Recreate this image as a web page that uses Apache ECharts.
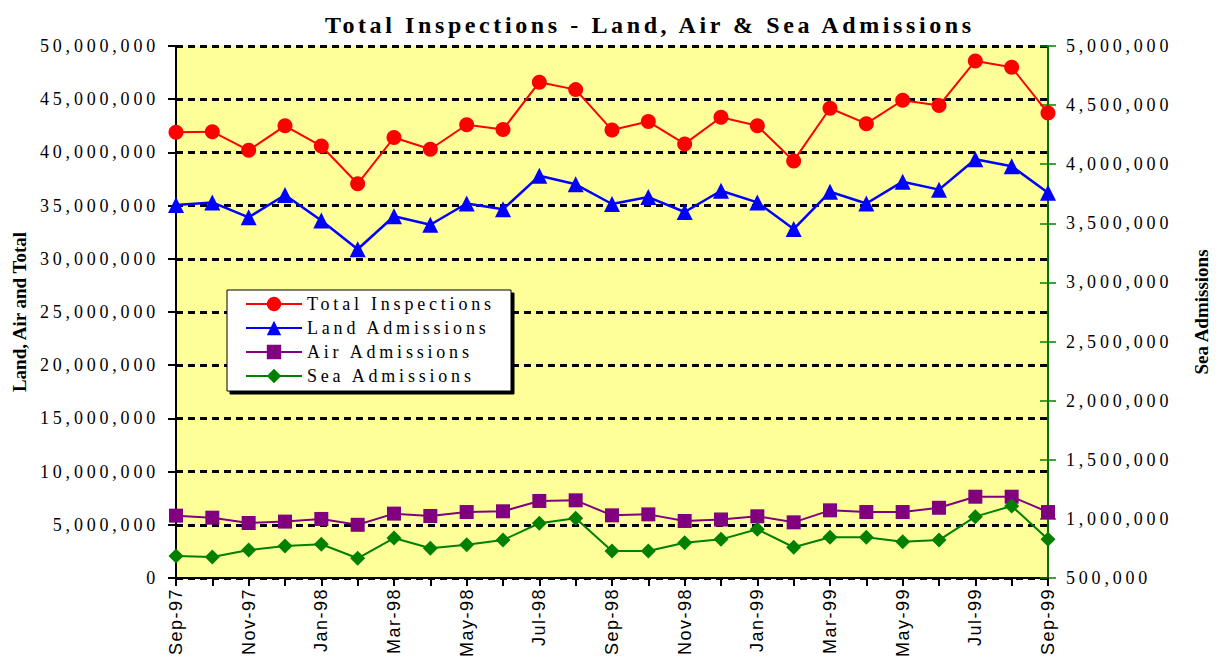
<!DOCTYPE html>
<html>
<head>
<meta charset="utf-8">
<script src="https://cdn.jsdelivr.net/npm/echarts@6/dist/echarts.min.js"></script>
<style>
html,body{margin:0;padding:0;background:#fff;}
#c{width:1217px;height:661px;}
text[style*="Liberation Serif"]{letter-spacing:3.8px;}
text[style*="24px"]{letter-spacing:3.6px;}
text[style*="19px"]{letter-spacing:0px;}
text[style*="Liberation Sans"]{letter-spacing:1.5px;}
</style>
</head>
<body>
<div id="c"></div>
<script>
const categories = ['Sep-97','Oct-97','Nov-97','Dec-97','Jan-98','Feb-98','Mar-98','Apr-98','May-98','Jun-98','Jul-98','Aug-98',
  'Sep-98','Oct-98','Nov-98','Dec-98','Jan-99','Feb-99','Mar-99','Apr-99','May-99','Jun-99','Jul-99','Aug-99','Sep-99'];
const totalInspections = [41900000,41950000,40200000,42500000,40600000,37050000,41400000,40300000,42600000,42150000,46600000,45900000,
  42100000,42900000,40800000,43300000,42500000,39200000,44150000,42700000,44900000,44400000,48600000,48000000,43700000];
const landAdmissions = [35050000,35300000,33900000,36000000,33600000,30900000,34000000,33200000,35200000,34650000,37800000,37000000,
  35150000,35800000,34400000,36400000,35300000,32800000,36300000,35200000,37250000,36500000,39350000,38700000,36200000];
const airAdmissions = [5860000,5670000,5170000,5300000,5550000,5000000,6050000,5830000,6200000,6270000,7240000,7300000,
  5890000,5980000,5360000,5500000,5800000,5230000,6360000,6200000,6200000,6600000,7640000,7640000,6200000];
const seaAdmissions = [686000,678000,737000,771000,785000,667000,838000,751000,782000,821000,963000,1005000,
  728000,728000,799000,827000,912000,760000,844000,844000,807000,821000,1019000,1109000,827000];
const leftTicks = {min:0, max:50000000, interval:5000000};
const rightTicks = {min:500000, max:5000000, interval:500000};

const fmt = v => Number(v).toLocaleString('en-US');
const chart = echarts.init(document.getElementById('c'), null, {renderer:'svg'});
const serifLbl = {fontFamily:'Liberation Serif', fontSize:18, color:'#000'};
const nameStyle = {fontFamily:'Liberation Serif', fontWeight:'bold', fontSize:19, color:'#000'};
chart.setOption({
  animation:false,
  backgroundColor:'#fff',
  title:{text:'Total Inspections - Land, Air & Sea Admissions', left:320, top:8,
    textStyle:{fontFamily:'Liberation Serif', fontWeight:'bold', fontSize:24, color:'#000'}},
  grid:{left:176, right:169, top:46, bottom:83, show:true, backgroundColor:'#FFFF99', borderWidth:0,
    containLabel:false, outerBoundsMode:'none'},
  legend:{orient:'vertical', left:227, top:290, backgroundColor:'#fff', borderColor:'#000', borderWidth:1,
    padding:[5,8,6,18], itemWidth:56, itemHeight:18, itemGap:6,
    shadowColor:'#000', shadowBlur:1, shadowOffsetX:3, shadowOffsetY:3,
    textStyle:{fontFamily:'Liberation Serif', fontSize:18, color:'#000', width:196, lineHeight:18},
    data:['Total Inspections','Land Admissions','Air Admissions','Sea Admissions']},
  xAxis:{type:'category', data:categories, boundaryGap:false,
    axisLine:{lineStyle:{color:'#000', width:2}},
    axisTick:{show:true, interval:0, length:8, lineStyle:{color:'#000', width:2}},
    axisLabel:{interval:1, rotate:90, margin:10, fontFamily:'Liberation Sans', fontSize:18, color:'#000'},
    splitLine:{show:false}},
  yAxis:[
    {type:'value', position:'left', min:leftTicks.min, max:leftTicks.max, interval:leftTicks.interval,
      name:'Land, Air and Total', nameLocation:'middle', nameGap:147, nameTextStyle:nameStyle,
      axisLine:{show:true, lineStyle:{color:'#000', width:2}},
      axisTick:{show:true, length:8, lineStyle:{color:'#000', width:2}},
      axisLabel:Object.assign({margin:17, formatter:fmt}, serifLbl),
      splitLine:{show:true, lineStyle:{color:'#000', width:3, type:[7,5]}}},
    {type:'value', position:'right', min:rightTicks.min, max:rightTicks.max, interval:rightTicks.interval,
      name:'Sea Admissions', nameLocation:'middle', nameGap:144, nameTextStyle:nameStyle,
      axisLine:{show:true, lineStyle:{color:'#007000', width:2}},
      axisTick:{show:true, length:8, lineStyle:{color:'#008000', width:1.5}},
      axisLabel:Object.assign({margin:18, formatter:fmt}, serifLbl),
      splitLine:{show:false}},
    {type:'value', position:'right', min:rightTicks.min, max:rightTicks.max, interval:rightTicks.interval,
      axisLine:{show:false}, axisLabel:{show:false}, splitLine:{show:false},
      axisTick:{show:true, inside:true, length:8, lineStyle:{color:'#008000', width:1.5}}}
  ],
  series:[
    {name:'Total Inspections', type:'line', yAxisIndex:0, data:totalInspections, symbol:'circle', symbolSize:15,
      lineStyle:{color:'#FF0000', width:2}, itemStyle:{color:'#FF0000'}, z:4},
    {name:'Land Admissions', type:'line', yAxisIndex:0, data:landAdmissions, symbol:'triangle', symbolSize:16,
      lineStyle:{color:'#0000FF', width:2.5}, itemStyle:{color:'#0000FF'}, z:4},
    {name:'Air Admissions', type:'line', yAxisIndex:0, data:airAdmissions, symbol:'rect', symbolSize:14,
      lineStyle:{color:'#800080', width:2}, itemStyle:{color:'#800080'}, z:4},
    {name:'Sea Admissions', type:'line', yAxisIndex:1, data:seaAdmissions, symbol:'diamond', symbolSize:[15,15],
      lineStyle:{color:'#008000', width:2}, itemStyle:{color:'#008000'}, z:4}
  ]
});
</script>
</body>
</html>
